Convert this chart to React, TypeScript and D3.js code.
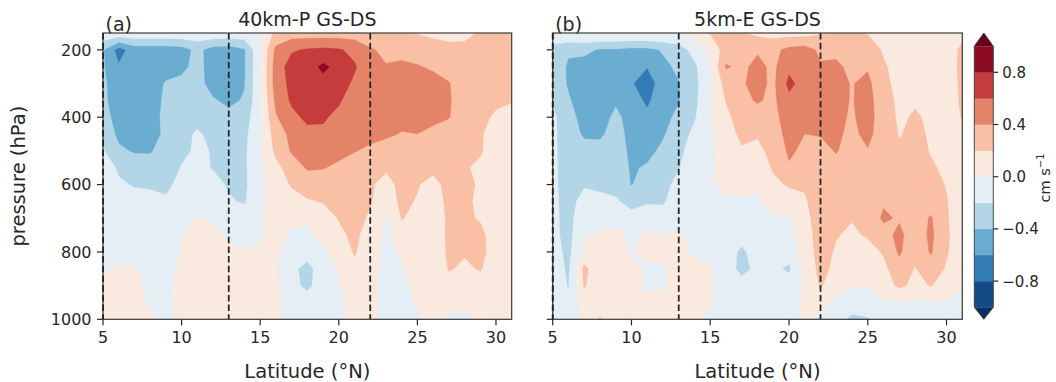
import React from "react";
import * as d3 from "d3";

// grid columns (°N) and rows (hPa)
const latitudes = [5, 6, 7, 8, 9, 10, 11, 12, 13, 14, 15, 16, 17, 18, 19, 20, 21, 22, 23, 24, 25, 26, 27, 28, 29, 30, 31];
const pressureLevels = [150, 200, 250, 300, 350, 400, 450, 500, 550, 600, 650, 700, 750, 800, 850, 900, 950, 1000];

// (a) 40km-P GS-DS, values in 0.01 cm s-1, one row per pressure level
const fieldA: number[][] = [
  [-5, -5, -5, -5, -5, -5, -5, -5, -5, -5, -1, 25, 30, 30, 30, 30, 30, 28, 25, 23, 19, 15, 12, 15, 22, 25, 25],
  [-38, -68, -50, -50, -50, -48, -35, -48, -50, -42, -2, 45, 58, 62, 64, 62, 55, 42, 36, 35, 33, 30, 27, 25, 25, 28, 30],
  [-38, -58, -52, -52, -50, -45, -33, -50, -52, -42, -2, 50, 68, 72, 84, 74, 62, 48, 41, 43, 41, 38, 33, 28, 26, 26, 30],
  [-36, -52, -52, -52, -38, -35, -33, -48, -52, -41, -2, 50, 65, 72, 74, 68, 57, 50, 48, 48, 47, 45, 41, 30, 27, 27, 28],
  [-36, -50, -52, -50, -36, -32, -30, -38, -45, -38, -3, 45, 63, 68, 66, 62, 52, 50, 48, 49, 48, 46, 42, 30, 27, 24, 21],
  [-30, -50, -50, -48, -35, -30, -25, -30, -33, -30, -3, 38, 55, 64, 62, 56, 50, 48, 45, 45, 45, 44, 41, 30, 25, 17, 14],
  [-23, -45, -50, -50, -35, -25, -18, -24, -28, -25, -3, 30, 45, 55, 57, 50, 48, 46, 43, 39, 40, 36, 30, 25, 21, 16, 14],
  [-18, -36, -42, -42, -30, -24, -17, -21, -24, -23, -3, 25, 42, 50, 50, 46, 41, 36, 32, 30, 30, 28, 27, 24, 21, 15, 12],
  [-12, -22, -27, -30, -28, -19, -15, -21, -24, -23, -3, 14, 30, 42, 41, 36, 31, 28, 22, 22, 22, 24, 25, 21, 18, 12, 10],
  [-10, -18, -21, -22, -23, -16, -10, -14, -22, -24, -3, 8, 22, 30, 30, 28, 25, 22, 15, 24, 21, 15, 25, 24, 18, 10, 6],
  [-8, -12, -15, -15, -18, -12, -6, -10, -18, -22, -2, 5, 12, 18, 21, 24, 24, 21, 12, 23, 19, 12, 24, 22, 18, 8, 5],
  [-6, -8, -10, -10, -10, -5, 1, -2, -5, -10, -1, 4, 3, 2, 12, 21, 25, 18, -1, 21, 15, 10, 23, 22, 19, 10, 5],
  [-5, -5, -7, -8, -8, -1, 4, 3, -2, -4, -1, 4, -2, -3, 5, 16, 24, 12, -5, 12, 12, 10, 23, 22, 23, 14, 5],
  [-4, -3, -4, -6, -6, 1, 5, 4, 2, 1, 1, 3, -8, -10, -3, 6, 22, 8, -5, 2, 8, 8, 23, 21, 23, 15, 5],
  [-1, 1, 1, -3, -4, 2, 5, 5, 3, 2, 3, 3, -14, -28, -6, 1, 15, 5, -4, -1, 5, 8, 21, 18, 21, 12, 5],
  [3, 3, 2, -2, -2, 2, 4, 4, 4, 3, 3, 3, -12, -26, -6, -1, 8, 3, -4, -3, 3, 6, 15, 12, 15, 10, 5],
  [4, 4, 3, -1, -2, 3, 4, 4, 4, 3, 3, 3, -5, -8, -5, -2, 4, 3, -3, -4, 1, 4, 5, 3, 6, 5, 4],
  [4, 4, 3, 1, -1, 1, 3, 4, 4, 3, 2, 2, -4, -5, -4, -2, 3, 2, -3, -3, -1, 3, -2, -2, 3, 4, 3],
];

// (b) 5km-E GS-DS, values in 0.01 cm s-1, one row per pressure level
const fieldB: number[][] = [
  [2, 2, 2, 2, 2, 2, 2, 2, 2, 6, 21, 25, 22, 15, 12, 12, 12, 18, 22, 22, 19, 12, 10, 10, 12, 10, 15],
  [-30, -38, -35, -42, -42, -45, -45, -38, -30, -12, 3, 30, 30, 38, 35, 45, 48, 36, 36, 33, 30, 18, 12, 12, 13, 10, 24],
  [-30, -42, -48, -50, -56, -58, -59, -45, -36, -24, -1, 42, 36, 45, 36, 55, 52, 42, 43, 36, 38, 22, 14, 13, 14, 10, 25],
  [-28, -42, -55, -52, -50, -58, -72, -48, -41, -26, -2, 28, 38, 46, 36, 65, 52, 42, 45, 39, 45, 24, 15, 15, 15, 10, 24],
  [-22, -38, -50, -50, -42, -50, -64, -46, -41, -25, -1, 21, 35, 42, 36, 55, 50, 42, 45, 39, 47, 28, 16, 18, 16, 10, 23],
  [-15, -35, -45, -46, -37, -45, -55, -45, -36, -22, -1, 15, 30, 32, 34, 50, 47, 42, 44, 38, 47, 30, 17, 22, 17, 12, 21],
  [-15, -33, -42, -42, -35, -44, -50, -42, -30, -15, -3, 12, 24, 22, 30, 47, 40, 41, 43, 36, 45, 30, 19, 24, 18, 13, 15],
  [-15, -32, -35, -36, -33, -43, -45, -36, -25, -10, -3, 10, 18, 15, 26, 43, 36, 35, 41, 33, 39, 30, 22, 26, 19, 15, 10],
  [-15, -30, -30, -30, -30, -42, -38, -30, -21, -8, -3, 7, 12, 8, 22, 38, 30, 32, 35, 30, 30, 30, 26, 28, 22, 17, 8],
  [-15, -30, -22, -24, -25, -41, -30, -25, -15, -7, -2, 5, 5, 2, 16, 22, 22, 30, 30, 27, 28, 32, 28, 30, 26, 19, 8],
  [-15, -28, -12, -15, -18, -25, -22, -22, -10, -6, -5, -2, -2, -2, 6, 10, 18, 30, 27, 23, 30, 38, 32, 30, 32, 21, 8],
  [-15, -27, -6, -6, -4, -15, -10, -12, -3, -5, -6, -5, -6, -6, -2, -2, 15, 28, 23, 21, 28, 43, 38, 30, 42, 22, 8],
  [-15, -26, -2, 2, 3, -2, 2, 1, 1, -3, -5, -8, -12, -8, -8, -6, 12, 28, 21, 17, 22, 33, 45, 28, 44, 23, 8],
  [-12, -25, 5, 5, 5, -1, 3, 2, 2, -1, -2, -10, -24, -10, -12, -12, 10, 27, 18, 10, 12, 22, 43, 25, 42, 22, 6],
  [-10, -23, 25, 6, 5, 3, -2, -1, 3, 2, 1, -10, -26, -15, -16, -23, 5, 26, 15, 5, 5, 15, 32, 19, 30, 18, 4],
  [-8, -21, 22, 6, 5, 4, -2, -1, 3, 3, 2, -8, -12, -10, -10, -12, 3, 22, 8, 1, 1, 10, 24, 15, 21, 12, 1],
  [-6, -15, 10, 10, 4, 4, 3, 3, 3, 3, 1, -5, -6, -6, -6, -6, 2, 6, -5, -8, -5, -2, -2, -3, -1, -2, -3],
  [-5, -10, 5, 22, 3, 3, 3, 3, 2, 2, -2, -2, -3, -4, -4, -3, 1, -3, -12, -25, -22, -8, -8, -6, -6, -5, -4],
];

const contourLevels = [-1, -0.8, -0.6, -0.4, -0.2, 0, 0.2, 0.4, 0.6, 0.8, 1];
const bandColors = [
  "#053061", "#134b86", "#327cb8", "#6bacd1", "#b2d5e7", "#e4eef4",
  "#fae9df", "#f9c0a5", "#e58368", "#c43c3c", "#8d0c25", "#67001f",
];
const xTicks = [5, 10, 15, 20, 25, 30];
const yTicks = [200, 400, 600, 800, 1000];
const cbarTicks = [-0.8, -0.4, 0, 0.4, 0.8];
const markerLats = [5, 13, 22];
const panelTitles = ["40km-P GS-DS", "5km-E GS-DS"];
const panelLetters = ["(a)", "(b)"];

const W = 1056;
const H = 382;
const plotTop = 33;
const plotBottom = 319.3;
const FONT = "'DejaVu Sans', sans-serif";
const INK = "#262626";

function fmt(v: number) {
  const s = v.toFixed(1);
  return v < 0 ? "\u2212" + s.slice(1) : s;
}

function ContourPanel(props: {
  field: number[][];
  x0: number;
  x1: number;
  title: string;
  letter: string;
  yLabels: boolean;
  id: string;
}) {
  const { field, x0, x1, title, letter, yLabels, id } = props;
  const nx = latitudes.length;
  const ny = pressureLevels.length;
  const xs = d3.scaleLinear().domain([5, 31]).range([x0, x1]);
  const ys = d3.scaleLinear().domain([150, 1000]).range([plotTop, plotBottom]);
  const gx = d3.scaleLinear().domain([0.5, nx - 0.5]).range([latitudes[0], latitudes[nx - 1]]);
  const gy = d3.scaleLinear().domain([0.5, ny - 0.5]).range([pressureLevels[0], pressureLevels[ny - 1]]);
  const values: number[] = [];
  field.forEach((row) => row.forEach((v) => values.push(v / 100)));
  const contours = d3.contours().size([nx, ny]).thresholds(contourLevels)(values);
  const proj = d3.geoTransform({
    point(x: number, y: number) {
      (this as any).stream.point(xs(gx(x)), ys(gy(y)));
    },
  });
  const path = d3.geoPath(proj as any);
  const cx = (x0 + x1) / 2;

  return (
    <g>
      <defs>
        <clipPath id={id}>
          <rect x={x0} y={plotTop} width={x1 - x0} height={plotBottom - plotTop} />
        </clipPath>
      </defs>
      <g clipPath={`url(#${id})`}>
        <rect x={x0} y={plotTop} width={x1 - x0} height={plotBottom - plotTop} fill={bandColors[0]} />
        {contours.map((c, k) => (
          <path key={k} d={path(c as any) || ""} fill={bandColors[k + 1]} stroke={bandColors[k + 1]} strokeWidth={0.3} />
        ))}
        {markerLats.map((lat) => (
          <line key={lat} x1={xs(lat)} x2={xs(lat)} y1={plotTop} y2={plotBottom}
            stroke={INK} strokeWidth={1.8} strokeDasharray="6.5,3.2" />
        ))}
      </g>
      <rect x={x0} y={plotTop} width={x1 - x0} height={plotBottom - plotTop} fill="none" stroke="#3a3a3a" strokeWidth={1.2} />
      {markerLats.filter((l) => l === 5).map((lat) => (
        <line key={"m" + lat} x1={xs(lat)} x2={xs(lat)} y1={plotTop} y2={plotBottom}
          stroke={INK} strokeWidth={1.8} strokeDasharray="6.5,3.2" />
      ))}
      {xTicks.map((t) => (
        <g key={t}>
          <line x1={xs(t)} x2={xs(t)} y1={plotBottom} y2={plotBottom + 6} stroke={INK} strokeWidth={1.2} />
          <text x={xs(t)} y={343} textAnchor="middle" fontSize={16} fontFamily={FONT} fill={INK}>{t}</text>
        </g>
      ))}
      {yTicks.map((t) => (
        <g key={t}>
          <line x1={x0 - 6} x2={x0} y1={ys(t)} y2={ys(t)} stroke={INK} strokeWidth={1.2} />
          {yLabels && (
            <text x={x0 - 11.5} y={ys(t)} dy="0.36em" textAnchor="end" fontSize={16} fontFamily={FONT} fill={INK}>{t}</text>
          )}
        </g>
      ))}
      <text x={cx} y={378} textAnchor="middle" fontSize={19.5} fontFamily={FONT} fill={INK}>Latitude (°N)</text>
      <text x={cx} y={26} textAnchor="middle" fontSize={19} fontFamily={FONT} fill={INK}>{title}</text>
      <text x={x0 + 2.5} y={30.5} textAnchor="start" fontSize={19} fontFamily={FONT} fill={INK}>{letter}</text>
      {yLabels && (
        <text transform={`translate(25,${(plotTop + plotBottom) / 2}) rotate(-90)`} textAnchor="middle"
          fontSize={19.5} fontFamily={FONT} fill={INK}>pressure (hPa)</text>
      )}
    </g>
  );
}

function Colorbar() {
  const cx0 = 974.3;
  const cx1 = 993.3;
  const cs = d3.scaleLinear().domain([-1, 1]).range([307.2, 46.2]);
  const mid = (cx0 + cx1) / 2;
  const bands = contourLevels.slice(0, -1).map((lv, k) => ({ lo: lv, hi: contourLevels[k + 1], color: bandColors[k + 1] }));
  const outline = `M${cx0},${cs(-1)} L${cx0},${cs(1)} L${mid},${plotTop} L${cx1},${cs(1)} L${cx1},${cs(-1)} L${mid},${plotBottom} Z`;
  return (
    <g>
      <path d={`M${cx0},${cs(1)} L${mid},${plotTop} L${cx1},${cs(1)} Z`} fill={bandColors[11]} />
      <path d={`M${cx0},${cs(-1)} L${mid},${plotBottom} L${cx1},${cs(-1)} Z`} fill={bandColors[0]} />
      {bands.map((b, k) => (
        <rect key={k} x={cx0} y={cs(b.hi)} width={cx1 - cx0} height={cs(b.lo) - cs(b.hi) + 0.3} fill={b.color} />
      ))}
      <path d={outline} fill="none" stroke="#3a3a3a" strokeWidth={0.9} />
      {cbarTicks.map((t) => (
        <g key={t}>
          <line x1={cx1} x2={cx1 + 5} y1={cs(t)} y2={cs(t)} stroke={INK} strokeWidth={1.2} />
          <text x={cx1 + 9} y={cs(t)} dy="0.36em" fontSize={15} fontFamily={FONT} fill={INK}>{fmt(t)}</text>
        </g>
      ))}
      <text transform={`translate(1050,178) rotate(-90)`} textAnchor="middle" fontSize={14.5} fontFamily={FONT} fill={INK}>
        cm s<tspan dy={-6} fontSize={10}>−1</tspan>
      </text>
    </g>
  );
}

export default function App() {
  return (
    <svg width={W} height={H} viewBox={`0 0 ${W} ${H}`}
      style={{ position: "absolute", left: 0, top: 0, background: "#fff" }}>
      <rect x={0} y={0} width={W} height={H} fill="#fff" />
      <ContourPanel field={fieldA} x0={103} x1={511.7} title={panelTitles[0]} letter={panelLetters[0]} yLabels={true} id="clipA" />
      <ContourPanel field={fieldB} x0={552.7} x1={962.3} title={panelTitles[1]} letter={panelLetters[1]} yLabels={false} id="clipB" />
      <Colorbar />
    </svg>
  );
}
